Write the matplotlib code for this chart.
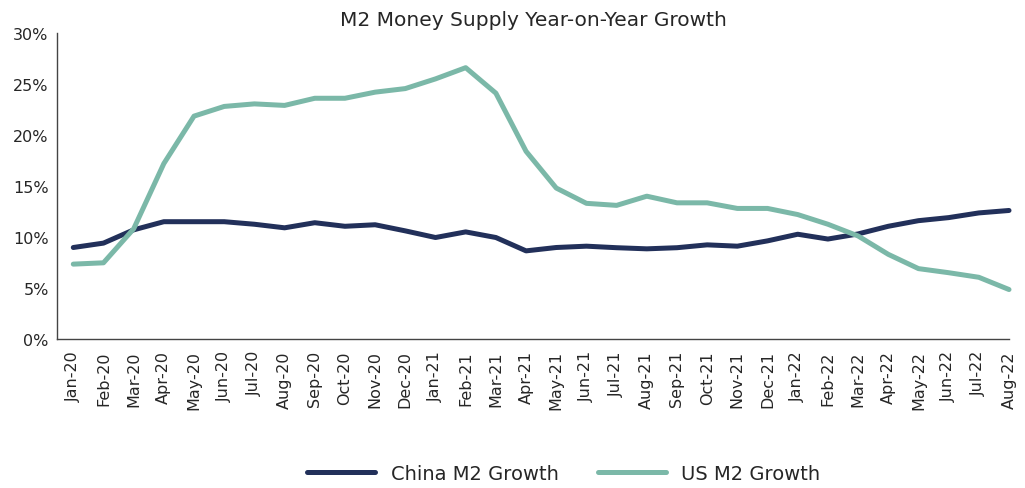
import numpy as np
import matplotlib
matplotlib.use('Agg')
import matplotlib.pyplot as plt
from matplotlib.ticker import FuncFormatter

plt.rcParams['font.family'] = ['DejaVu Sans']

months = ['Jan-20', 'Feb-20', 'Mar-20', 'Apr-20', 'May-20', 'Jun-20', 'Jul-20', 'Aug-20',
          'Sep-20', 'Oct-20', 'Nov-20', 'Dec-20', 'Jan-21', 'Feb-21', 'Mar-21', 'Apr-21',
          'May-21', 'Jun-21', 'Jul-21', 'Aug-21', 'Sep-21', 'Oct-21', 'Nov-21', 'Dec-21',
          'Jan-22', 'Feb-22', 'Mar-22', 'Apr-22', 'May-22', 'Jun-22', 'Jul-22', 'Aug-22']

china_m2 = [8.97, 9.4, 10.7, 11.5, 11.5, 11.5, 11.25, 10.9, 11.4, 11.05, 11.2, 10.6,
            9.95, 10.5, 9.95, 8.64, 8.97, 9.1, 8.95, 8.84, 8.95, 9.23, 9.1, 9.62,
            10.27, 9.8, 10.3, 11.05, 11.6, 11.9, 12.36, 12.6]

us_m2 = [7.34, 7.47, 10.8, 17.2, 21.85, 22.8, 23.05, 22.9, 23.6, 23.6, 24.2, 24.55,
         25.5, 26.6, 24.1, 18.4, 14.8, 13.3, 13.1, 14.0, 13.35, 13.35, 12.8, 12.8,
         12.2, 11.25, 10.1, 8.3, 6.9, 6.5, 6.05, 4.85]

china_color = '#22305a'
us_color = '#7bb8a8'
text_color = '#262626'

fig = plt.figure(figsize=(10.25, 4.89), dpi=100)
ax = fig.add_axes([0.0556, 0.3047, 0.9288, 0.6258])

x = np.arange(len(months))
ax.plot(x, china_m2, color=china_color, lw=3.6, label='China M2 Growth',
        solid_capstyle='round', solid_joinstyle='round', clip_on=False)
ax.plot(x, us_m2, color=us_color, lw=3.6, label='US M2 Growth',
        solid_capstyle='round', solid_joinstyle='round', clip_on=False)

ax.set_xlim(-0.54, 30.91)
ax.set_ylim(0, 30)
ax.set_yticks(np.arange(0, 31, 5))
ax.yaxis.set_major_formatter(FuncFormatter(lambda v, p: f'{v:.0f}%'))
ax.set_xticks(x)
ax.set_xticklabels(months, rotation=90)

for s in ['top', 'right']:
    ax.spines[s].set_visible(False)
for s in ['left', 'bottom']:
    ax.spines[s].set_color('#444444')
    ax.spines[s].set_linewidth(1.0)

ax.tick_params(axis='both', length=0, labelsize=11.5, colors=text_color)
ax.tick_params(axis='y', pad=6)
ax.tick_params(axis='x', pad=8)

ax.set_title('M2 Money Supply Year-on-Year Growth', fontsize=14.5, color=text_color, pad=6)

fig.legend(loc='center', bbox_to_anchor=(0.55, 0.03), ncol=2, frameon=False,
           fontsize=14, handlelength=3.5, columnspacing=2.0, labelcolor=text_color)

fig.savefig('out.png', dpi=100)
